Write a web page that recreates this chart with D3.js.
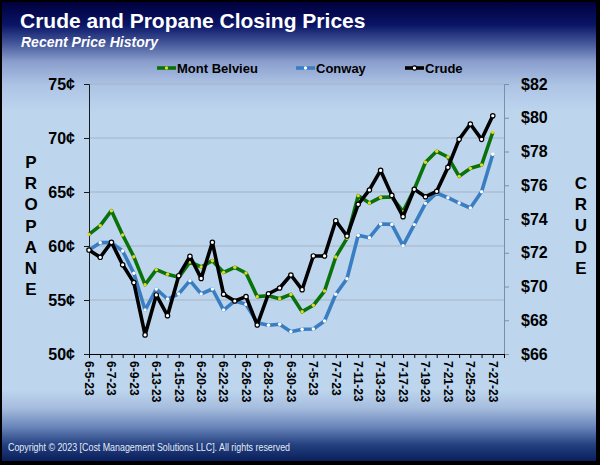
<!DOCTYPE html>
<html><head><meta charset="utf-8">
<script src="https://cdn.jsdelivr.net/npm/d3@7"></script>
<style>
html,body{margin:0;padding:0;background:#000;}
svg{display:block;font-family:Arial,"Liberation Sans",sans-serif;}
</style></head>
<body>
<svg id="chart" width="600" height="465"></svg>
<script>
const dates = ["6-5-23","6-6-23","6-7-23","6-8-23","6-9-23","6-12-23","6-13-23","6-14-23","6-15-23","6-16-23",
  "6-20-23","6-21-23","6-22-23","6-23-23","6-26-23","6-27-23","6-28-23","6-29-23","6-30-23","7-3-23",
  "7-5-23","7-6-23","7-7-23","7-10-23","7-11-23","7-12-23","7-13-23","7-14-23","7-17-23","7-18-23",
  "7-19-23","7-20-23","7-21-23","7-24-23","7-25-23","7-26-23","7-27-23"];
const montBelvieu = [61.08,61.88,63.27,61.02,59.0,56.42,57.81,57.38,57.10,58.52,58.06,58.64,57.56,58.03,57.5,55.31,55.40,55.12,55.52,53.92,54.51,55.83,58.98,60.71,64.66,63.98,64.5,64.54,63.18,65.25,67.75,68.77,68.24,66.45,67.19,67.5,70.53];
const conway = [59.63,60.31,60.31,59.54,57.47,54.07,56.02,55.09,55.56,56.79,55.56,56.02,54.07,54.91,54.6,52.9,52.66,52.75,52.06,52.29,52.31,53.06,55.53,56.97,60.99,60.77,62.04,62.0,60.03,61.98,63.95,64.91,64.47,63.98,63.52,65.03,68.49];
const crude = [72.16,71.73,72.62,71.29,70.23,67.13,69.50,68.27,70.64,71.79,70.48,72.62,69.54,69.14,69.40,67.72,69.57,69.91,70.68,69.81,71.81,71.81,73.90,72.99,74.87,75.72,76.88,75.40,74.14,75.76,75.32,75.64,77.06,78.72,79.63,78.72,80.12];
const propaneTicks = [50,55,60,65,70,75];
const crudeTicks = [66,68,70,72,74,76,78,80,82];
const seriesNames = ["Mont Belvieu","Conway","Crude"];

const svg = d3.select("#chart");
const W = 600, H = 465;

// background gradient
const defs = svg.append("defs");
const g = defs.append("linearGradient").attr("id","bg").attr("x1",0).attr("y1",0).attr("x2",0).attr("y2",1);
[[0,"#00003c"],[0.05,"#0a1566"],[0.09,"#43579a"],[0.13,"#8a9ecd"],[0.18,"#adc3e4"],[0.24,"#bdd6ee"],
 [0.845,"#bdd6ee"],[0.885,"#a5bcdd"],[0.925,"#6a86bb"],[0.965,"#23407f"],[1,"#0a1f5c"]]
 .forEach(([o,c])=>g.append("stop").attr("offset",o).attr("stop-color",c));

svg.append("rect").attr("width",W).attr("height",H).attr("fill","#000");
svg.append("rect").attr("x",2).attr("y",2).attr("width",W-6).attr("height",H-6).attr("fill","url(#bg)");

// titles
svg.append("text").attr("x",20).attr("y",28).attr("fill","#fff").attr("font-size",21).attr("font-weight","bold")
  .text("Crude and Propane Closing Prices");
svg.append("text").attr("x",21).attr("y",47).attr("fill","#fff").attr("font-size",14).attr("font-weight","bold")
  .attr("font-style","italic").text("Recent Price History");

// scales
const x = d3.scaleLinear().domain([0, dates.length]).range([89, 504]);
const yL = d3.scaleLinear().domain([50,75]).range([354,84]);
const yR = d3.scaleLinear().domain([66,82]).range([354,84]);

// gridlines
svg.append("g").selectAll("line").data(propaneTicks.slice(1)).join("line")
  .attr("x1",89).attr("x2",504).attr("y1",d=>yL(d)).attr("y2",d=>yL(d))
  .attr("stroke","#a7b2c2").attr("stroke-width",1);

// left axis
const axL = svg.append("g").attr("transform","translate(89,0)")
  .call(d3.axisLeft(yL).tickValues(propaneTicks).tickSize(5).tickPadding(9).tickFormat(d=>d+"¢"));
axL.select(".domain").attr("stroke","#1a1a1a");
axL.selectAll(".tick line").attr("stroke","#1a1a1a");
axL.selectAll("text").attr("font-size",16).attr("font-weight","bold").attr("fill","#000")
  .attr("font-family","Arial, 'Liberation Sans', sans-serif");

// right axis
const axR = svg.append("g").attr("transform","translate(504,0)")
  .call(d3.axisRight(yR).tickValues(crudeTicks).tickSize(5).tickPadding(12).tickFormat(d=>"$"+d));
axR.select(".domain").attr("stroke","#7f8fa3");
axR.selectAll(".tick line").attr("stroke","#7f8fa3");
axR.selectAll("text").attr("font-size",16).attr("font-weight","bold").attr("fill","#000")
  .attr("font-family","Arial, 'Liberation Sans', sans-serif");

// bottom axis
const axB = svg.append("g").attr("transform","translate(0,354)")
  .call(d3.axisBottom(x).tickValues(d3.range(0, dates.length+1)).tickSize(4).tickFormat(""));
axB.select(".domain").attr("stroke","#000");
axB.selectAll(".tick line").attr("stroke","#000");
svg.append("g").selectAll("text").data(dates.map((d,i)=>({d,i})).filter(o=>o.i%2===0)).join("text")
  .attr("transform",o=>`translate(${x(o.i)},361) rotate(90)`)
  .attr("dy","0.35em").attr("font-size",12).attr("font-weight","bold").attr("fill","#000")
  .text(o=>o.d);

// axis titles (stacked letters)
const stack = (word, cx, y0, step) => {
  svg.append("g").selectAll("text").data(word.split("")).join("text")
    .attr("x",cx).attr("y",(d,i)=>y0+i*step).attr("text-anchor","middle")
    .attr("font-size",17).attr("font-weight","bold").attr("fill","#000").text(d=>d);
};
stack("PROPANE", 31, 168, 21.2);
stack("CRUDE", 581, 189, 21.2);

// lines
const line = (sc)=>d3.line().x((d,i)=>x(i)).y(d=>sc(d));
const styles = [
  {data:montBelvieu, sc:yL, color:"#0b720b", mfill:"#e8d81a", mstroke:"none", r:1.7},
  {data:conway, sc:yL, color:"#3a7dc1", mfill:"#ffffff", mstroke:"none", r:1.7},
  {data:crude, sc:yR, color:"#000000", mfill:"#ffffff", mstroke:"#000", r:2.2}
];
styles.forEach(s=>{
  svg.append("path").datum(s.data).attr("d",line(s.sc)).attr("fill","none")
    .attr("stroke",s.color).attr("stroke-width",3.6).attr("stroke-linejoin","round");
  svg.append("g").selectAll("circle").data(s.data).join("circle")
    .attr("cx",(d,i)=>x(i)).attr("cy",d=>s.sc(d)).attr("r",s.r)
    .attr("fill",s.mfill).attr("stroke",s.mstroke).attr("stroke-width",1.2);
});

// legend
const legX = [157, 296, 405];
styles.forEach((s,k)=>{
  const lg = svg.append("g").attr("transform",`translate(${legX[k]},68)`);
  lg.append("line").attr("x1",0).attr("x2",19).attr("y1",0).attr("y2",0).attr("stroke",s.color).attr("stroke-width",3.6);
  lg.append("circle").attr("cx",9.5).attr("cy",0).attr("r",s.r).attr("fill",s.mfill).attr("stroke",s.mstroke).attr("stroke-width",1.2);
  lg.append("text").attr("x",20).attr("y",4.5).attr("font-size",13).attr("font-weight","bold").attr("fill","#000").text(seriesNames[k]);
});

// copyright
svg.append("text").attr("x",8).attr("y",451).attr("fill","#e6ecf7").attr("font-size",10.5)
  .attr("font-family","'Liberation Sans Narrow', 'Arial Narrow', Arial, sans-serif")
  .attr("textLength",282).attr("lengthAdjust","spacingAndGlyphs")
  .text("Copyright © 2023  [Cost Management  Solutions LLC].  All rights  reserved");
</script>
</body></html>
